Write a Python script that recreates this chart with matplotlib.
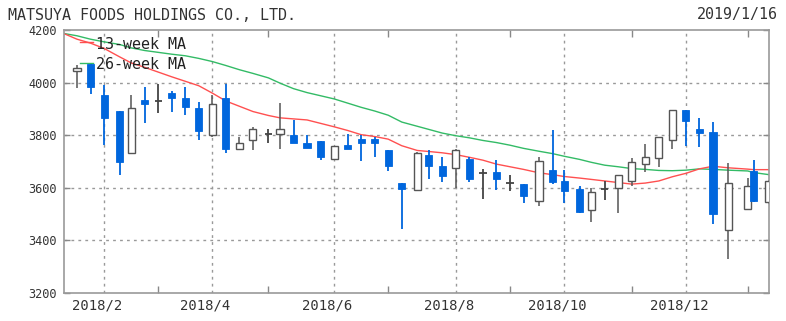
import matplotlib
matplotlib.use("Agg")
import matplotlib.pyplot as plt
import matplotlib.dates as mdates
import matplotlib.transforms as mtransforms
from datetime import datetime

# ---------------- data ----------------
title = "MATSUYA FOODS HOLDINGS CO., LTD."
date_label = "2019/1/16"

week_dates = [
    "2018-01-22", "2018-01-29", "2018-02-05", "2018-02-13", "2018-02-19", "2018-02-26",
    "2018-03-05", "2018-03-12", "2018-03-19", "2018-03-26", "2018-04-02", "2018-04-09",
    "2018-04-16", "2018-04-23", "2018-05-01", "2018-05-07", "2018-05-14", "2018-05-21",
    "2018-05-28", "2018-06-04", "2018-06-11", "2018-06-18", "2018-06-25", "2018-07-02",
    "2018-07-09", "2018-07-17", "2018-07-23", "2018-07-30", "2018-08-06", "2018-08-13",
    "2018-08-20", "2018-08-27", "2018-09-03", "2018-09-10", "2018-09-18", "2018-09-25",
    "2018-10-01", "2018-10-09", "2018-10-15", "2018-10-22", "2018-10-29", "2018-11-05",
    "2018-11-12", "2018-11-19", "2018-11-26", "2018-12-03", "2018-12-10", "2018-12-17",
    "2018-12-25", "2019-01-04", "2019-01-07", "2019-01-15",
]
opens = [4045, 4070, 3953, 3893, 3734, 3932, 3930, 3962, 3943, 3903, 3800, 3943,
         3747, 3783, 3804, 3803, 3800, 3772, 3779, 3709, 3762, 3785, 3785, 3745,
         3618, 3593, 3726, 3681, 3675, 3710, 3656, 3659, 3618, 3616, 3549, 3669,
         3624, 3597, 3514, 3595, 3599, 3624, 3691, 3713, 3783, 3896, 3823, 3812,
         3441, 3519, 3665, 3545]
highs = [4067, 4073, 3991, 3893, 3953, 3982, 3995, 3968, 3982, 3928, 3953, 3995,
         3793, 3830, 3824, 3922, 3858, 3800, 3779, 3760, 3805, 3801, 3795, 3745,
         3618, 3738, 3742, 3717, 3747, 3719, 3671, 3704, 3647, 3616, 3716, 3820,
         3669, 3605, 3599, 3624, 3650, 3713, 3767, 3795, 3896, 3896, 3865, 3852,
         3694, 3638, 3707, 3630]
lows = [3979, 3957, 3764, 3650, 3734, 3848, 3884, 3890, 3877, 3783, 3795, 3734,
        3742, 3742, 3770, 3747, 3770, 3753, 3707, 3707, 3747, 3700, 3717, 3662,
        3445, 3593, 3633, 3621, 3599, 3621, 3557, 3593, 3586, 3542, 3530, 3616,
        3542, 3504, 3469, 3552, 3504, 3605, 3659, 3679, 3747, 3760, 3757, 3462,
        3330, 3519, 3545, 3540]
closes = [4057, 3985, 3865, 3700, 3903, 3917, 3930, 3941, 3907, 3817, 3919, 3747,
          3770, 3824, 3804, 3824, 3770, 3753, 3717, 3760, 3747, 3770, 3770, 3684,
          3595, 3732, 3684, 3643, 3742, 3633, 3656, 3633, 3618, 3570, 3703, 3621,
          3586, 3507, 3583, 3595, 3647, 3697, 3716, 3795, 3896, 3855, 3810, 3502,
          3618, 3605, 3549, 3624]

ma_dates = ["2018-01-15"] + week_dates
ma13 = [4187, 4165, 4150, 4130, 4098, 4075, 4058, 4040, 4022, 4005, 3988, 3960,
        3930, 3910, 3890, 3875, 3866, 3862, 3858, 3845, 3832, 3818, 3802, 3795,
        3785, 3760, 3742, 3738, 3733, 3726, 3716, 3705, 3690, 3680, 3670, 3657,
        3650, 3643, 3637, 3632, 3626, 3620, 3614, 3618, 3626, 3642, 3655, 3672,
        3682, 3676, 3671, 3669, 3669]
ma26 = [4187, 4178, 4165, 4155, 4145, 4132, 4122, 4115, 4108, 4102, 4092, 4080,
        4065, 4049, 4035, 4018, 3998, 3977, 3962, 3950, 3938, 3922, 3906, 3892,
        3876, 3850, 3834, 3822, 3808, 3798, 3790, 3780, 3772, 3762, 3750, 3739,
        3730, 3720, 3708, 3697, 3686, 3680, 3673, 3670, 3666, 3665, 3667, 3672,
        3670, 3667, 3664, 3658, 3650]

major_ticks = ["2018-02-05", "2018-04-02", "2018-06-04", "2018-08-06", "2018-10-01", "2018-12-03"]
major_labels = ["2018/2", "2018/4", "2018/6", "2018/8", "2018/10", "2018/12"]
minor_ticks = ["2018-03-05", "2018-05-01", "2018-07-02", "2018-09-03", "2018-11-05", "2019-01-04"]
y_ticks = [3200, 3400, 3600, 3800, 4000, 4200]
x_range = ["2018-01-15", "2019-01-15"]
legend_labels = ["13-week MA", "26-week MA"]

# ---------------- styling ----------------
UP_EDGE = "#555555"
DOWN = "#0066dd"
RED = "#ff5050"
GREEN = "#33bb66"
GRID = "#999999"
TXT = "#333333"
FONT = "DejaVu Sans Mono"


def dnum(s):
    return mdates.date2num(datetime.strptime(s, "%Y-%m-%d"))


W, H = 786, 321
fig = plt.figure(figsize=(W / 100, H / 100), dpi=100)
ax = fig.add_axes([63.5 / W, 1 - 293 / H, (769 - 63.5) / W, (293 - 30) / H])

xs = [dnum(d) for d in week_dates]
body_w = 3.7

for x, o, h, l, c in zip(xs, opens, highs, lows, closes):
    if c > o:
        ax.vlines(x, l, h, color=UP_EDGE, lw=1.1, zorder=2)
        ax.bar(x, c - o, bottom=o, width=body_w, facecolor="white",
               edgecolor=UP_EDGE, linewidth=1.0, zorder=3)
    elif c < o:
        ax.vlines(x, l, h, color=DOWN, lw=1.3, zorder=2)
        ax.bar(x, o - c, bottom=c, width=body_w, facecolor=DOWN,
               edgecolor=DOWN, linewidth=0.6, zorder=3)
    else:
        ax.vlines(x, l, h, color="#444444", lw=1.3, zorder=2)
        ax.hlines(o, x - body_w / 2, x + body_w / 2, color="#444444", lw=1.3, zorder=3)

mx = [dnum(d) for d in ma_dates]
ax.plot(mx, ma26, color=GREEN, lw=1.0, zorder=1.5)
ax.plot(mx, ma13, color=RED, lw=1.0, zorder=1.6)

ax.set_xlim(dnum(x_range[0]), dnum(x_range[1]))
ax.set_ylim(y_ticks[0], y_ticks[-1])

# grid
for v in y_ticks[1:-1]:
    ax.axhline(v, color=GRID, lw=1.0, ls=(0, (2, 3)), zorder=1)
for d in major_ticks:
    ax.axvline(dnum(d), color=GRID, lw=1.0, ls=(0, (2, 3)), zorder=1)

# ticks
ax.set_yticks(y_ticks)
ax.set_yticklabels([str(v) for v in y_ticks], fontsize=8.6, family=FONT, color=TXT)
ax.tick_params(axis="y", direction="in", length=4, width=1, color="#888888",
               left=True, right=True, pad=5)
ax.set_xticks([dnum(d) for d in major_ticks])
ax.set_xticklabels(major_labels, fontsize=10, family=FONT, color=TXT)
ax.set_xticks([dnum(d) for d in minor_ticks], minor=True)
ax.tick_params(axis="x", which="major", length=0, pad=4)
ax.tick_params(axis="x", which="minor", direction="in", length=5, width=1,
               color="#888888", top=True, bottom=True)
offset = mtransforms.ScaledTranslation(-7 / 100, 0, fig.dpi_scale_trans)
for lab in ax.get_xticklabels():
    lab.set_transform(lab.get_transform() + offset)

for s in ax.spines.values():
    s.set_color("#999999")
    s.set_linewidth(1.2)

# legend (drawn manually)
ax.plot([0.023, 0.042], [0.954, 0.954], transform=ax.transAxes, color=RED, lw=1.0)
ax.plot([0.023, 0.042], [0.875, 0.875], transform=ax.transAxes, color=GREEN, lw=1.0)
ax.text(0.046, 0.945, legend_labels[0], transform=ax.transAxes, fontsize=10.8,
        family=FONT, color="#222222", va="center", ha="left")
ax.text(0.046, 0.868, legend_labels[1], transform=ax.transAxes, fontsize=10.8,
        family=FONT, color="#222222", va="center", ha="left")

fig.text(8 / W, 1 - 15 / H, title, fontsize=10.8, family=FONT, color=TXT,
         va="center", ha="left")
fig.text(778 / W, 1 - 15 / H, date_label, fontsize=10.8, family=FONT, color=TXT,
         va="center", ha="right")

fig.savefig("out.png", dpi=100)
